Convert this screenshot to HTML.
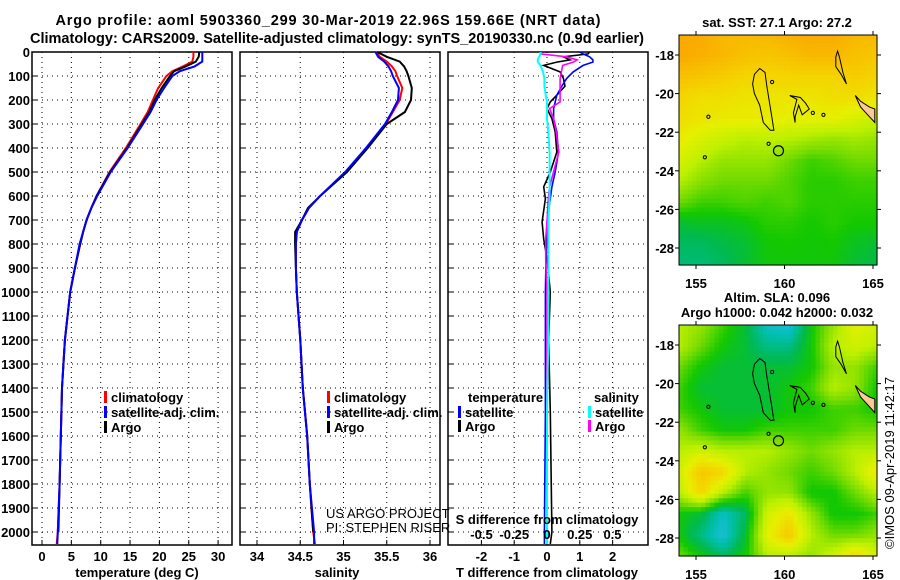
<!DOCTYPE html>
<html><head><meta charset="utf-8"><style>
html,body{margin:0;padding:0;background:#fff}
svg{display:block;font-family:"Liberation Sans",Arial,sans-serif}
.b{font-weight:bold;font-size:13px}
</style></head><body>
<svg id="s" width="900" height="580" viewBox="0 0 900 580">
<text x="328" y="25" text-anchor="middle" class="b" style="font-size:14.5px" textLength="545">Argo profile: aoml 5903360_299 30-Mar-2019 22.96S 159.66E (NRT data)</text>
<text x="337" y="43" text-anchor="middle" class="b" style="font-size:14.5px" textLength="614">Climatology: CARS2009. Satellite-adjusted climatology: synTS_20190330.nc (0.9d earlier)</text>
</svg>
<script>
const depths=[0,20,40,60,80,100,150,200,250,300,400,500,600,650,700,750,800,900,1000,1200,1400,1600,1800,2000,2050];
const argoT=[26.8,26.7,26.2,24.5,22.5,21.8,20.4,19.2,18.3,17.0,14.5,11.6,9.3,8.4,7.6,7.0,6.5,5.6,4.8,3.9,3.4,3.2,3.0,2.8,2.8];
const climT=[25.8,25.8,25.6,24.0,22.2,21.2,19.8,18.9,18.0,16.8,14.3,11.5,9.3,8.4,7.6,7.0,6.5,5.6,4.8,3.9,3.4,3.2,3.0,2.7,2.5];
const satT=[27.3,27.3,27.3,26.0,23.5,22.2,20.8,19.5,18.5,17.2,14.6,11.7,9.4,8.4,7.6,7.0,6.4,5.6,4.8,3.9,3.4,3.2,3.0,2.7,2.6];
const argoS=[35.39,35.50,35.65,35.70,35.73,35.75,35.79,35.78,35.71,35.50,35.28,35.04,34.73,34.59,34.52,34.44,34.44,34.45,34.46,34.50,34.53,34.58,34.61,34.65,34.65];
const climS=[35.38,35.42,35.50,35.56,35.60,35.62,35.68,35.65,35.57,35.49,35.27,35.03,34.73,34.60,34.52,34.46,34.45,34.45,34.46,34.50,34.53,34.58,34.61,34.65,34.67];
const satS=[35.37,35.40,35.47,35.52,35.55,35.57,35.64,35.63,35.56,35.48,35.26,35.02,34.73,34.60,34.52,34.46,34.45,34.45,34.46,34.50,34.53,34.58,34.61,34.66,34.66];
const dDepths=[0,8,20,33,42,56,83,110,142,180,208,236,278,333,417,500,562,611,708,780,860,1000,1200,1500,2000,2050];
const dTargo=[1.3,1.25,0.5,0.7,0.3,-0.1,0.4,0.5,0.55,0.3,0.1,0.0,0.15,0.25,0.3,0.1,-0.1,-0.05,-0.15,-0.1,0.0,0.1,0.05,0.1,0.15,0.1];
const dTsat=[1.0,1.1,1.3,1.4,1.4,1.1,0.8,0.6,0.45,0.3,0.25,0.2,0.2,0.3,0.35,0.25,0.15,0.1,0.0,0.0,-0.03,-0.05,-0.05,-0.05,-0.08,-0.08];
const dSargo=[-0.05,-0.05,0.15,0.23,0.2,0.12,0.11,0.1,0.1,0.1,0.1,0.02,0.05,0.07,0.09,0.05,0.02,0.01,0.0,-0.01,-0.01,0,0,0,0,0];
const dSsat=[-0.05,-0.05,-0.06,-0.07,-0.07,-0.05,-0.03,-0.02,-0.02,-0.01,0,0,0,0.01,0.02,0.02,0.02,0.02,0.01,0.01,0.01,0.01,0.01,0,0,0];
const depthTicks=[0,100,200,300,400,500,600,700,800,900,1000,1100,1200,1300,1400,1500,1600,1700,1800,1900,2000];
const tTicks=[0,5,10,15,20,25,30];
const sTicks=[34,34.5,35,35.5,36];
const sTickLabels=["34","34.5","35","35.5","36"];
const dtTicks=[-2,-1,0,1,2];
const dsTicks=[-0.5,-0.25,0,0.25,0.5];
const dsTickLabels=["-0.5","-0.25","0","0.25","0.5"];
const latTicks=[-18,-20,-22,-24,-26,-28];
const lonTicks=[155,160,165];
const sstGrid=[
[.9,.9,.85,.85,.85,.88,.9,.9,.85,.85],
[.9,.88,.85,.82,.8,.82,.85,.85,.82,.8],
[.82,.8,.78,.75,.75,.75,.75,.75,.78,.75],
[.75,.72,.72,.7,.7,.7,.7,.72,.72,.7],
[.72,.7,.68,.68,.68,.66,.66,.66,.62,.58],
[.68,.62,.58,.55,.56,.55,.52,.5,.52,.5],
[.62,.55,.5,.5,.5,.45,.4,.42,.45,.45],
[.55,.48,.45,.45,.45,.42,.38,.38,.4,.4],
[.45,.4,.4,.42,.4,.42,.38,.38,.38,.38],
[.3,.32,.32,.34,.38,.38,.36,.38,.36,.36],
[.25,.25,.28,.3,.35,.36,.35,.36,.32,.3],
[.22,.22,.25,.3,.35,.35,.35,.35,.3,.28]];
const slaGrid=[
[.55,.5,.4,.3,.1,.05,.35,.5,.65,.6],
[.55,.45,.35,.3,.2,.2,.35,.55,.6,.55],
[.45,.35,.3,.3,.3,.3,.35,.5,.5,.4],
[.4,.3,.3,.3,.3,.35,.4,.55,.5,.35],
[.4,.35,.3,.3,.3,.35,.35,.4,.4,.35],
[.5,.4,.35,.35,.4,.4,.4,.4,.45,.45],
[.55,.6,.55,.55,.55,.5,.45,.5,.55,.55],
[.6,.8,.75,.55,.5,.45,.4,.45,.55,.7],
[.55,.75,.55,.4,.5,.5,.35,.35,.45,.55],
[.35,.3,.1,.25,.6,.7,.5,.35,.35,.4],
[.35,.2,.05,.3,.65,.8,.55,.45,.45,.5],
[.45,.35,.25,.35,.55,.55,.5,.6,.75,.6]];
const island1=[[158.6,-18.7],[158.9,-18.9],[159.0,-19.6],[159.3,-21.3],[159.4,-21.9],[159.2,-21.9],[158.8,-21.5],[158.6,-20.6],[158.3,-20.0],[158.2,-19.5],[158.3,-19.0],[158.6,-18.7]];
const island2=[[160.3,-20.1],[160.9,-20.2],[161.2,-20.5],[161.4,-20.8],[161.0,-21.1],[160.8,-20.6],[160.6,-21.2],[160.6,-21.5],[160.5,-21.0],[160.7,-20.3],[160.3,-20.1]];
const island3=[[163.0,-17.8],[163.1,-18.1],[163.3,-18.9],[163.5,-19.5],[163.2,-19.0],[162.9,-18.6],[162.9,-18.1],[163.0,-17.8]];
const caledonia=[[164.0,-20.1],[164.3,-20.4],[164.8,-20.7],[165.1,-20.8],[165.1,-21.5],[164.7,-21.1],[164.3,-20.7],[164.0,-20.1]];
const smallIsl=[[155.7,-21.2],[155.5,-23.3],[162.2,-21.1],[161.6,-21.0],[159.1,-22.6],[159.3,-19.4]];
const floatPos=[159.66,-22.96];
</script>
<script>
const NS="http://www.w3.org/2000/svg";
const svg=document.getElementById('s');
function el(tag,at,parent){const e=document.createElementNS(NS,tag);for(const k in at)e.setAttribute(k,at[k]);(parent||svg).appendChild(e);return e;}
function txt(x,y,s,anchor,cls,parent){const t=el('text',{x:x,y:y,'text-anchor':anchor||'middle'},parent);if(cls)t.setAttribute('class',cls);t.textContent=s;return t;}
const Y0=52,PPD=0.24;
function yD(d){return Y0+d*PPD;}
const TOP=52,BOT=545;
const xT=v=>42+v*5.87;
const xS=v=>257+(v-34)*86.5;
const xDT=v=>547+v*32.8;
const xDS=v=>547+v*131;
function panel(name,x0,x1,vgrid,labelsLeft){
 const g=el('g',{});
 
 
 depthTicks.forEach(d=>{
  el('line',{x1:x0,x2:x1,y1:yD(d),y2:yD(d),stroke:'#000','stroke-width':1,'stroke-dasharray':'1,4'},g);
  el('line',{x1:x0,x2:x0+5,y1:yD(d),y2:yD(d),stroke:'#000'},g);
  if(labelsLeft){const t=txt(30,yD(d)+5,String(d),'end','b',g);}
 });
 vgrid.forEach(x=>{el('line',{x1:x,x2:x,y1:TOP,y2:BOT,stroke:'#000','stroke-dasharray':'1,4'},g);el('line',{x1:x,x2:x,y1:BOT,y2:BOT-5,stroke:'#000'},g);});
 el('rect',{x:x0,y:TOP,width:x1-x0,height:BOT-TOP,fill:'none',stroke:'#000','stroke-width':1.5},g);
 return g;
}
function line(xs,ds,xf,color,name,parent,w){
 const pts=xs.map((v,i)=>xf(v).toFixed(1)+','+yD(ds[i]).toFixed(1)).join(' ');
 const p=el('polyline',{points:pts,fill:'none',stroke:color,'stroke-width':w||2},parent);
 
 
}
const p1=panel('temperature-panel',32,232,tTicks.map(xT),true);
tTicks.forEach(v=>{const t=txt(xT(v),561,String(v),'middle','b');});
line(climT,depths,xT,'#f00','temperature-climatology-line',p1);
line(argoT.slice(0,24),depths.slice(0,24),xT,'#000','temperature-argo-line',p1);
line(satT,depths,xT,'#00f','temperature-satellite-line',p1);
const p2=panel('salinity-panel',240,440,sTicks.map(xS),false);
sTicks.forEach((v,i)=>{const t=txt(xS(v),561,sTickLabels[i],'middle','b');});
line(climS,depths,xS,'#f00','salinity-climatology-line',p2);
line(argoS.slice(0,24),depths.slice(0,24),xS,'#000','salinity-argo-line',p2);
line(satS,depths,xS,'#00f','salinity-satellite-line',p2);
const p3=panel('difference-panel',448,648,dtTicks.map(xDT),false);
dtTicks.forEach(v=>{const t=txt(xDT(v),561,String(v),'middle','b');});
dsTicks.forEach((v,i)=>{const t=txt(xDS(v),539,dsTickLabels[i],'middle','b');});
line(dTargo,dDepths,xDT,'#000','t-diff-argo-line',p3,1.6);
line(dTsat,dDepths,xDT,'#00f','t-diff-satellite-line',p3,1.6);
line(dSargo,dDepths,xDS,'#f0f','s-diff-argo-line',p3,1.6);
line(dSsat,dDepths,xDS,'#0ff','s-diff-satellite-line',p3,2);
[[137,'temperature (deg C)'],[337,'salinity'],[547,'T difference from climatology']].forEach(a=>{const t=txt(a[0],577,a[1],'middle','b');});
{const t=txt(547,524,'S difference from climatology','middle','b');}
function legItem(x,y,color,label,name){
 const g=el('g',{});
 el('rect',{x:x,y:y-11,width:3,height:12,fill:color},g);
 txt(x+7,y,label,'start','b',g);
}
legItem(104,402,'#f00','climatology','legend-climatology');
legItem(104,417,'#00f','satellite-adj. clim.','legend-satellite-adj');
legItem(104,432,'#000','Argo','legend-argo');
legItem(327,402,'#f00','climatology','legend-climatology-s');
legItem(327,417,'#00f','satellite-adj. clim.','legend-satellite-adj-s');
legItem(327,432,'#000','Argo','legend-argo-s');
{const t=txt(468,402,'temperature','start','b');}
{const t=txt(594,402,'salinity','start','b');}
legItem(458,417,'#00f','satellite','legend-t-satellite');
legItem(458,431,'#000','Argo','legend-t-argo');
legItem(588,417,'#0ff','satellite','legend-s-satellite');
legItem(588,431,'#f0f','Argo','legend-s-argo');
{const t=txt(326,518,'US ARGO PROJECT','start');t.setAttribute('style','font-size:13px');}
{const t=txt(326,532,'PI: STEPHEN RISER','start');t.setAttribute('style','font-size:13px');}
const stops=[[0,[40,190,240]],[0.15,[0,190,170]],[0.27,[0,185,80]],[0.36,[20,200,0]],[0.46,[120,220,0]],[0.56,[190,240,0]],[0.66,[230,240,0]],[0.76,[245,210,0]],[0.9,[250,170,0]],[1,[245,150,0]]];
function cmap(v){for(let i=1;i<stops.length;i++){if(v<=stops[i][0]){const a=stops[i-1],b=stops[i];const f=(v-a[0])/(b[0]-a[0]);return 'rgb('+a[1].map((c,k)=>Math.round(c+(b[1][k]-c)*f)).join(',')+')';}}return 'rgb(245,150,0)';}
function bil(G,fx,fy){const R=G.length-1,C=G[0].length-1;const x=fx*C,y=fy*R;const i=Math.min(Math.floor(y),R-1),j=Math.min(Math.floor(x),C-1);const u=x-j,v=y-i;return G[i][j]*(1-u)*(1-v)+G[i][j+1]*u*(1-v)+G[i+1][j]*(1-u)*v+G[i+1][j+1]*u*v;}
function map(name,G,mx0,my0,mx1,my1,lat18y,lat28y){
 const g=el('g',{});
 const NX=45,NY=52,cw=(mx1-mx0)/NX,ch=(my1-my0)/NY;
 for(let r=0;r<NY;r++)for(let c=0;c<NX;c++){
  el('rect',{x:(mx0+c*cw).toFixed(2),y:(my0+r*ch).toFixed(2),width:(cw+0.6).toFixed(2),height:(ch+0.6).toFixed(2),fill:cmap(bil(G,(c+0.5)/NX,(r+0.5)/NY))},g);
 }
 const lx=lon=>696+(lon-155)*17.7;
 const ly=lat=>lat18y+(-18-lat)*(lat28y-lat18y)/10;
 const path=P=>P.map(p=>lx(p[0]).toFixed(1)+','+ly(p[1]).toFixed(1)).join(' ');
 el('polygon',{points:path(caledonia),fill:'#fbc898',stroke:'#000','stroke-width':1},g);
 [island1,island2,island3].forEach(P=>el('polygon',{points:path(P),fill:'none',stroke:'#000','stroke-width':1},g));
 smallIsl.forEach(p=>el('circle',{cx:lx(p[0]),cy:ly(p[1]),r:1.6,fill:'none',stroke:'#000'},g));
 el('circle',{cx:lx(floatPos[0]),cy:ly(floatPos[1]),r:5,fill:'none',stroke:'#000','stroke-width':1.2},g);
 el('rect',{x:mx0,y:my0,width:mx1-mx0,height:my1-my0,fill:'none',stroke:'#000','stroke-width':1},g);
 latTicks.forEach(l=>{el('line',{x1:mx0-4,x2:mx0,y1:ly(l),y2:ly(l),stroke:'#000'},g);el('line',{x1:mx1,x2:mx1+4,y1:ly(l),y2:ly(l),stroke:'#000'},g);const t=txt(mx0-5,ly(l)+5,String(l),'end','b',g);});
 lonTicks.forEach(l=>{el('line',{x1:lx(l),x2:lx(l),y1:my1,y2:my1+4,stroke:'#000'},g);el('line',{x1:lx(l),x2:lx(l),y1:my0-4,y2:my0,stroke:'#000'},g);const t=txt(lx(l),my1+23,String(l),'middle','b',g);});
}
map('sst-map',sstGrid,679,35,877,265,55,248);
map('sla-map',slaGrid,679,325,877,556,345,538);
{const t=txt(777,27,'sat. SST: 27.1 Argo: 27.2','middle','b');}
{const t=txt(777,302,'Altim. SLA: 0.096','middle','b');}
{const t=txt(777,317,'Argo h1000: 0.042 h2000: 0.032','middle','b');}
{const t=txt(0,0,'©IMOS 09-Apr-2019 11:42:17','middle');t.setAttribute('transform','translate(894,463) rotate(-90)');t.setAttribute('style','font-size:13px');}
</script>
</body></html>
